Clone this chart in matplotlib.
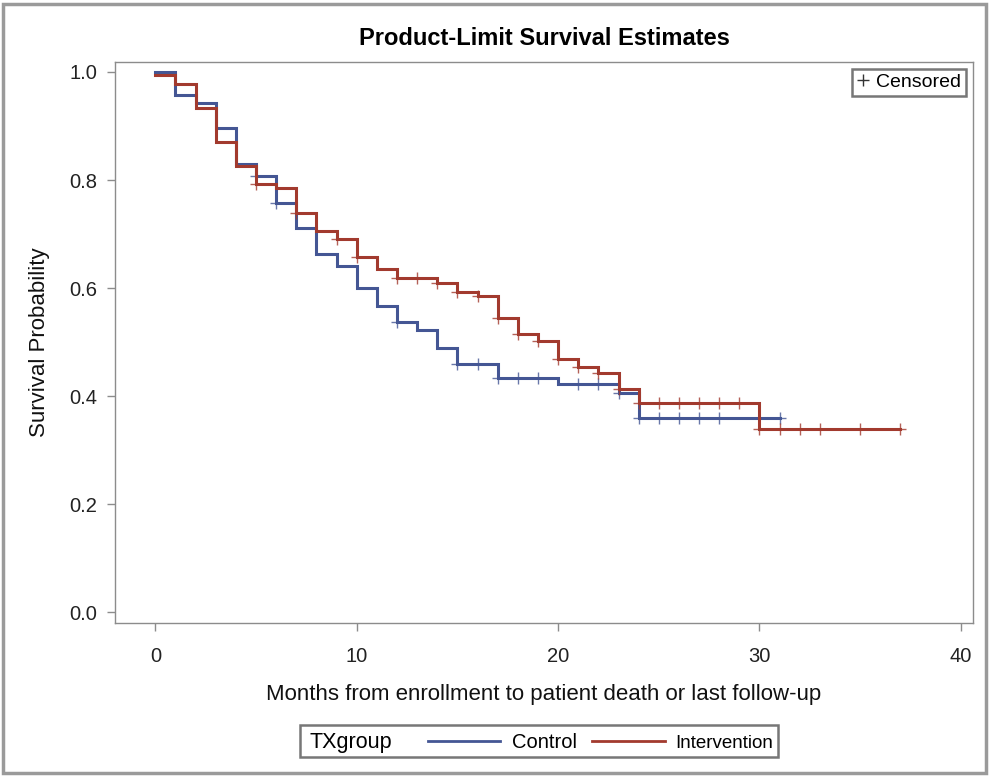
"""Kaplan-Meier style product-limit curves, SAS look."""
import numpy as np
import matplotlib
matplotlib.use("Agg")
import matplotlib.pyplot as plt
from matplotlib.lines import Line2D
from matplotlib.patches import Rectangle

plt.rcParams["font.family"] = ["Liberation Sans", "DejaVu Sans"]

# Control arm (event times and survival after each step)
ctrl_t = [0, 1, 2, 3, 4, 5, 6, 7, 8, 9, 10, 11, 12, 13, 14, 15, 17, 20, 23, 24, 31]
ctrl_s = [1.0, 0.957, 0.943, 0.896, 0.830, 0.807, 0.757, 0.711, 0.663, 0.641, 0.600,
          0.567, 0.537, 0.522, 0.489, 0.459, 0.433, 0.422, 0.406, 0.359, 0.359]
ctrl_cens = [5, 6, 12, 15, 16, 17, 18, 19, 21, 22, 23, 24, 25, 26, 27, 28, 31]

# Intervention arm
intv_t = [0, 1, 2, 3, 4, 5, 6, 7, 8, 9, 10, 11, 12, 14, 15, 16, 17, 18, 19, 20, 21,
          22, 23, 24, 30, 37]
intv_s = [0.994, 0.977, 0.933, 0.870, 0.826, 0.793, 0.785, 0.739, 0.706, 0.691, 0.657,
          0.635, 0.619, 0.609, 0.593, 0.585, 0.544, 0.515, 0.502, 0.469, 0.454, 0.443,
          0.413, 0.387, 0.339, 0.339]
intv_cens = [5, 7, 9, 10, 12, 13, 14, 15, 16, 17, 18, 19, 20, 21, 22, 23, 24, 25, 26,
             27, 28, 29, 30, 31, 32, 33, 35, 37]

BLUE = "#445694"
RED = "#A23A2E"
GRAY = "#8c8c8c"


def level_at(times, surv, t):
    i = np.searchsorted(times, t, side="right") - 1
    return surv[i]


fig = plt.figure(figsize=(9.9, 7.76), dpi=100)
ax = fig.add_axes([0.1162, 0.1972, 0.8666, 0.7229])

for t, s, cens, col in [(ctrl_t, ctrl_s, ctrl_cens, BLUE),
                        (intv_t, intv_s, intv_cens, RED)]:
    ax.step(t, s, where="post", color=col, lw=2.2, solid_joinstyle="miter")
    cy = [level_at(np.array(t), np.array(s), c) for c in cens]
    ax.plot(cens, cy, ls="none", marker="+", ms=9, mew=1.0, color=col, alpha=0.8)

ax.set_xlim(-2, 40.6)
ax.set_ylim(-0.02, 1.0185)
ax.set_xticks([0, 10, 20, 30, 40])
ax.set_yticks([0.0, 0.2, 0.4, 0.6, 0.8, 1.0])
ax.set_yticklabels(["0.0", "0.2", "0.4", "0.6", "0.8", "1.0"])
for sp in ax.spines.values():
    sp.set_color(GRAY)
    sp.set_linewidth(1.0)
ax.tick_params(direction="out", length=6, width=1, color=GRAY, labelsize=14.5,
               labelcolor="#222222")
ax.tick_params(axis="x", pad=11)
ax.tick_params(axis="y", pad=7)
ax.set_xlabel("Months from enrollment to patient death or last follow-up",
              fontsize=16, labelpad=13, color="#111111")
ax.set_ylabel("Survival Probability", fontsize=16, labelpad=14, color="#111111")
ax.set_title("Product-Limit Survival Estimates", fontsize=17, fontweight="bold",
             pad=12)

# censored marker legend, top right
cl = ax.legend([Line2D([], [], ls="none", marker="+", ms=9, mew=1.0, color="#333333")],
               ["Censored"], loc="upper right", fontsize=14, handlelength=0.6,
               handletextpad=0.4, borderpad=0.25, fancybox=False, framealpha=1,
               edgecolor="#777777", borderaxespad=0.35)
cl.get_frame().set_linewidth(1.8)

# group legend at the bottom
px = lambda x, y: (x / 990, 1 - y / 776)
fig.add_artist(Rectangle(px(300, 757), 478 / 990, 32 / 776, transform=fig.transFigure,
                         fill=False, edgecolor="#777777", lw=1.8))
fig.text(*px(309, 748), "TXgroup", fontsize=15.5, va="baseline", ha="left")
fig.add_artist(Line2D([428 / 990, 500 / 990], [1 - 741 / 776] * 2,
                      transform=fig.transFigure, color=BLUE, lw=2))
fig.text(*px(512, 748), "Control", fontsize=14.5, va="baseline", ha="left")
fig.add_artist(Line2D([592 / 990, 665 / 990], [1 - 741 / 776] * 2,
                      transform=fig.transFigure, color=RED, lw=2))
fig.text(*px(675, 748), "Intervention", fontsize=13.5, va="baseline", ha="left")

# outer image border
fig.add_artist(Rectangle((0.003, 0.004), 0.993, 0.991, transform=fig.transFigure,
                         fill=False, edgecolor="#9a9a9a", lw=2.5))

fig.savefig("out.png", dpi=100)
